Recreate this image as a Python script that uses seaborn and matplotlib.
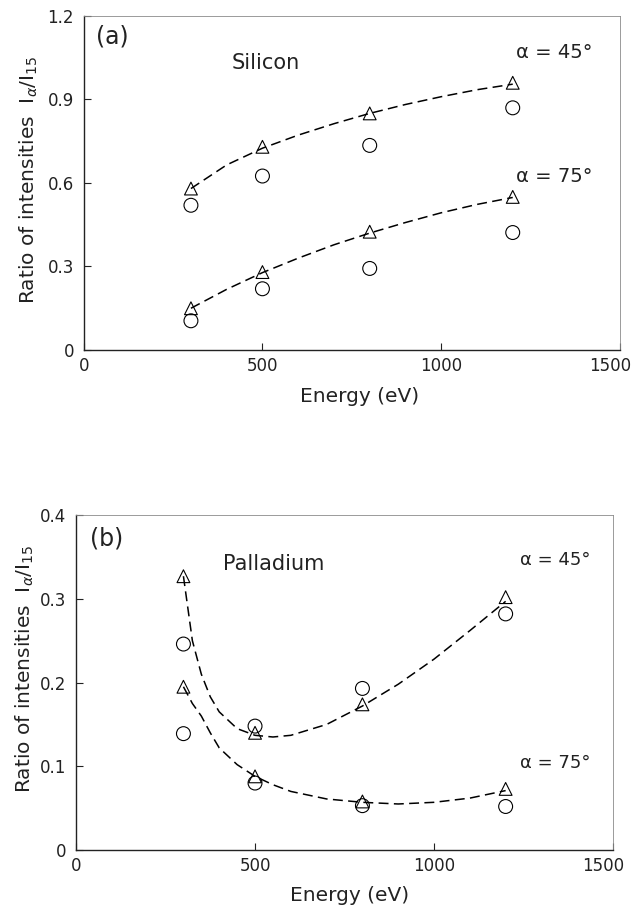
import numpy as np
import pandas as pd
import matplotlib
matplotlib.use("Agg")
import matplotlib.pyplot as plt
import matplotlib.transforms as mtransforms
import seaborn as sns

energy = [300, 500, 800, 1200]

# (a) silicon
si_tri_45 = [0.58, 0.73, 0.85, 0.96]
si_circ_45 = [0.52, 0.625, 0.735, 0.87]
si_tri_75 = [0.15, 0.28, 0.425, 0.55]
si_circ_75 = [0.105, 0.22, 0.293, 0.422]

# (b) palladium
pd_tri_45 = [0.327, 0.140, 0.174, 0.302]
pd_circ_45 = [0.246, 0.148, 0.193, 0.282]
pd_tri_75 = [0.195, 0.088, 0.058, 0.073]
pd_circ_75 = [0.139, 0.080, 0.053, 0.052]

# dashed guide curves
si_fit_x = [300, 400, 500, 600, 700, 800, 900, 1000, 1100, 1200]
si_fit_45 = [0.58, 0.665, 0.725, 0.772, 0.813, 0.85, 0.882, 0.91, 0.935, 0.955]
si_fit_75 = [0.15, 0.218, 0.278, 0.33, 0.378, 0.42, 0.458, 0.493, 0.523, 0.548]

pd_fit_x = [300, 325, 350, 375, 400, 450, 500, 550, 600, 700, 800, 900, 1000, 1100, 1200]
pd_fit_45 = [0.327, 0.25, 0.21, 0.183, 0.165, 0.145, 0.137, 0.135, 0.137, 0.15, 0.172, 0.198, 0.228, 0.262, 0.297]
pd_fit_75 = [0.195, 0.175, 0.16, 0.14, 0.122, 0.102, 0.088, 0.078, 0.07, 0.061, 0.057, 0.055, 0.057, 0.062, 0.071]

si_yticks = [0, 0.3, 0.6, 0.9, 1.2]
si_yticklabels = ["0", "0.3", "0.6", "0.9", "1.2"]
pd_yticks = [0, 0.1, 0.2, 0.3, 0.4]
pd_yticklabels = ["0", "0.1", "0.2", "0.3", "0.4"]
xticks = [0, 500, 1000, 1500]

sns.set_style("ticks")
plt.rcParams['font.family'] = ['DejaVu Sans']
plt.rcParams['mathtext.fontset'] = 'dejavusans'

INK = "#222222"

fig = plt.figure(figsize=(6.32, 9.07), dpi=100)
ax_a = fig.add_axes([0.1324, 0.6141, 0.8486, 0.3683])
ax_b = fig.add_axes([0.1203, 0.0628, 0.8497, 0.3693])


def draw_panel(ax, fit_x, fit_45, fit_75, tri_45, circ_45, tri_75, circ_75):
    for fit in (fit_45, fit_75):
        sns.lineplot(x=fit_x, y=fit, ax=ax, color="black", linewidth=1.1,
                     linestyle=(0, (6.5, 3.5)))
    for vals in (tri_45, tri_75):
        sns.scatterplot(x=energy, y=vals, ax=ax, marker="^", s=85,
                        facecolor="none", edgecolor="black", linewidth=0.8, zorder=3)
    for vals in (circ_45, circ_75):
        sns.scatterplot(x=energy, y=vals, ax=ax, marker="o", s=100,
                        facecolor="none", edgecolor="black", linewidth=0.8, zorder=3)
    ax.set_xlim(0, 1500)
    ax.set_xticks(xticks)
    ax.set_xticklabels([str(t) for t in xticks])
    ax.tick_params(direction="in", length=5, width=0.8, labelsize=12, colors=INK)
    ax.tick_params(axis="y", pad=7)
    ax.tick_params(axis="x", pad=5)
    for side in ("left", "bottom"):
        ax.spines[side].set_linewidth(1.0)
        ax.spines[side].set_color(INK)
    for side in ("top", "right"):
        ax.spines[side].set_visible(True)
        ax.spines[side].set_linewidth(0.6)
        ax.spines[side].set_color("#8a8a8a")
    ax.set_xlabel("Energy (eV)", fontsize=14.5, color=INK)
    ax.set_ylabel(r"Ratio of intensities  $\mathrm{I}_{\alpha}/\mathrm{I}_{15}$",
                  fontsize=14.5, color=INK)
    # last x label sits a little left of the spine end, as in the print
    shift = mtransforms.ScaledTranslation(-0.10, 0, fig.dpi_scale_trans)
    lab = ax.get_xticklabels()[-1]
    lab.set_transform(lab.get_transform() + shift)


draw_panel(ax_a, si_fit_x, si_fit_45, si_fit_75, si_tri_45, si_circ_45, si_tri_75, si_circ_75)
ax_a.set_ylim(0, 1.2)
ax_a.set_yticks(si_yticks)
ax_a.set_yticklabels(si_yticklabels)
ax_a.xaxis.set_label_coords(0.515, -0.111)
ax_a.yaxis.set_label_coords(-0.082, 0.51)
ax_a.text(34, 1.125, "(a)", fontsize=17, va="center", color=INK)
ax_a.text(414, 1.03, "Silicon", fontsize=15, va="center", color=INK)
ax_a.text(1209, 1.067, "α = 45°", fontsize=14, va="center", color=INK)
ax_a.text(1209, 0.625, "α = 75°", fontsize=14, va="center", color=INK)

draw_panel(ax_b, pd_fit_x, pd_fit_45, pd_fit_75, pd_tri_45, pd_circ_45, pd_tri_75, pd_circ_75)
ax_b.set_ylim(0, 0.4)
ax_b.set_yticks(pd_yticks)
ax_b.set_yticklabels(pd_yticklabels)
ax_b.xaxis.set_label_coords(0.51, -0.108)
ax_b.yaxis.set_label_coords(-0.075, 0.54)
ax_b.text(39, 0.372, "(b)", fontsize=17, va="center", color=INK)
ax_b.text(411, 0.341, "Palladium", fontsize=15, va="center", color=INK)
ax_b.text(1240, 0.346, "α = 45°", fontsize=13, va="center", color=INK)
ax_b.text(1240, 0.104, "α = 75°", fontsize=13, va="center", color=INK)

fig.savefig("out.png", dpi=100)
